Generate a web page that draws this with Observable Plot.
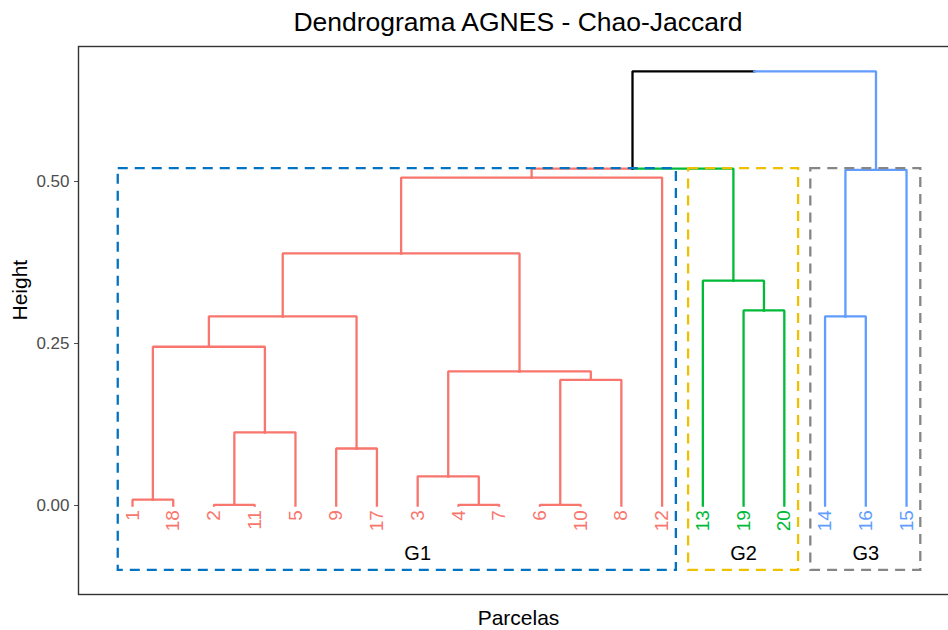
<!DOCTYPE html>
<html>
<head>
<meta charset="utf-8">
<script src="https://cdn.jsdelivr.net/npm/d3@7"></script>
<script src="https://cdn.jsdelivr.net/npm/@observablehq/plot@0.6"></script>
<style>
  body { margin: 0; background: white; }
  #title { height: 45px; line-height: 45px; width: 948px; box-sizing: border-box; padding-left: 88px;
           text-align: center; font-family: "Liberation Sans", Arial, sans-serif; font-size: 26.5px; color: #000; }
</style>
</head>
<body>
<div id="title">Dendrograma AGNES - Chao-Jaccard</div>
<div id="chart"></div>
<script>
// ---- Data ----
const leafLabels = ["1","18","2","11","5","9","17","3","4","7","6","10","8","12","13","19","20","14","16","15"];
const leafGroup  = [1,1,1,1,1,1,1,1,1,1,1,1,1,1,2,2,2,3,3,3];
const groupNames  = ["G1","G2","G3"];
const groupColors = ["#F8766D","#00BA38","#619CFF"];
const boxColors   = ["#0073C2","#EFC000","#868686"];
const groupLabelPos = [8, 16, 19];
// hclust-style merges: negative = leaf (position in order), positive = earlier merge
const mergeLeft   = [-1,-3, 2, 1,-6, 4,-9,-8,-11, 9, 8, 6,12,-16,-15,13,-18,17,16];
const mergeRight  = [-2,-4,-5, 3,-7, 5,-10, 7,-12,-13,10,11,-14,-17,14,15,-19,-20,18];
const mergeHeight = [0.009,0.001,0.113,0.245,0.088,0.292,0.001,0.045,0.001,0.194,0.207,0.389,0.506,0.301,0.347,0.520,0.292,0.518,0.670];
const yTicks = [0, 0.25, 0.5];

// ---- Build tree geometry from merges ----
const nodes = [];
function childNode(c) {
  if (c < 0) { const i = -c; return {x: i, h: 0, g: leafGroup[i - 1]}; }
  return nodes[c - 1];
}
const paths = [];
mergeLeft.forEach((l, k) => {
  const a = childNode(l), b = childNode(mergeRight[k]);
  const h = mergeHeight[k];
  const node = {x: (a.x + b.x) / 2, h, g: a.g === b.g ? a.g : 0};
  nodes.push(node);
  [a, b].forEach((c, j) => {
    const id = k * 2 + j;
    const color = c.g ? groupColors[c.g - 1] : "#000000";
    paths.push({id, color, x: c.x, y: c.h});
    paths.push({id, color, x: c.x, y: h});
    paths.push({id, color, x: node.x, y: h});
  });
});

const groupExtent = groupNames.map((g, i) => {
  const idx = leafGroup.map((v, j) => v === i + 1 ? j + 1 : null).filter(v => v !== null);
  return {name: g, first: d3.min(idx), last: d3.max(idx), color: boxColors[i], pos: groupLabelPos[i]};
});

const boxPad = 0.35, boxBottom = -0.10, boxTop = 0.52;
const labelY = -0.007, groupLabelY = -0.074;

const chart = Plot.plot({
  width: 948,
  height: 585,
  marginLeft: 78,
  marginRight: 0,
  marginTop: 1,
  marginBottom: 36,
  style: {fontFamily: "Liberation Sans, Arial, sans-serif", fontSize: "17px", color: "#4D4D4D", background: "white"},
  x: {domain: [-0.3255, 21.03], axis: null},
  y: {domain: [-0.1373, 0.7083], ticks: yTicks, tickFormat: d3.format(".2f"), tickSize: 4, tickPadding: 5, label: null},
  color: {type: "identity"},
  marks: [
    Plot.line(paths, {x: "x", y: "y", z: "id", stroke: "color", strokeWidth: 2.3, strokeLinejoin: "miter", strokeLinecap: "square",
      sort: null}),
    Plot.text(leafLabels, {x: (d, i) => i + 1, y: () => labelY, text: d => d, rotate: -90, textAnchor: "end", lineAnchor: "middle",
      fill: (d, i) => groupColors[leafGroup[i] - 1], fontSize: 19}),
    Plot.rect(groupExtent, {x1: d => d.first - boxPad, x2: d => d.last + boxPad, y1: () => boxBottom, y2: () => boxTop,
      fill: "none", stroke: "color", strokeWidth: 2.3, strokeDasharray: "10,7"}),
    Plot.text(groupExtent, {x: "pos", y: () => groupLabelY, text: "name", fill: "#000", fontSize: 20}),
    Plot.frame({stroke: "#333", strokeWidth: 1.4, insetRight: -20}),
    Plot.text(["Height"], {frameAnchor: "left", dx: -58, rotate: -90, text: d => d, fill: "#000", fontSize: 21}),
    Plot.text(["Parcelas"], {frameAnchor: "bottom", dx: 5, dy: 30, text: d => d, fill: "#000", fontSize: 21})
  ]
});
document.getElementById("chart").appendChild(chart);
</script>
</body>
</html>
